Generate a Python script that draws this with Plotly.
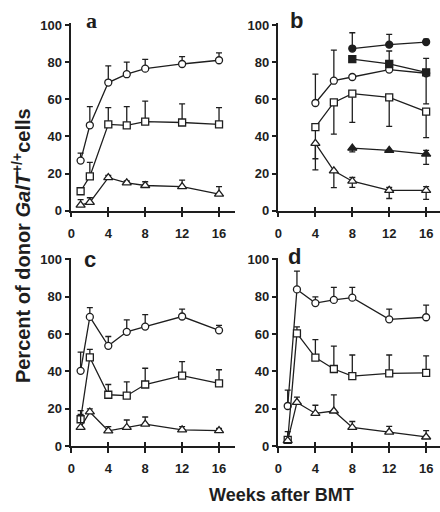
import plotly.graph_objects as go

W, H = 440, 512

weeks = [1, 2, 4, 6, 8, 12, 16]
xticks = [0, 4, 8, 12, 16]
yticks = [0, 20, 40, 60, 80, 100]

# Panel a
a_circ = [27, 46, 69, 73.5, 76.5, 79, 81]
a_circ_up = [4, 10, 9, 6.5, 5, 4, 4]
a_sq = [10.5, 18.5, 46.5, 46, 48, 47.5, 46.5]
a_sq_up = [0, 7.5, 9, 10, 11, 10, 9]
a_tri = [3, 4.5, 17.8, 15, 13.6, 13, 9]
a_tri_up = [3, 2.5, 1.2, 1, 2, 3.5, 4]

# Panel b
b_weeks_open = [4, 6, 8, 12, 16]
b_circ = [58, 70, 72, 76, 74]
b_circ_up = [15.5, 16.5, 0, 10, 0]
b_sq = [45, 58.3, 63, 61, 53.4]
b_sq_down = [17, 17.1, 15.4, 15.6, 14]
b_tri = [36.3, 21.5, 15.9, 11, 11]
b_tri_up = [0, 0, 2, 1.5, 2]
b_tri_down = [14.3, 9.1, 3.3, 4.4, 4.9]
b_weeks_filled = [8, 12, 16]
b_fcirc = [87.3, 89.4, 90.8]
b_fcirc_up = [8.5, 5.5, 1.5]
b_fsq = [81.6, 79, 74.5]
b_fsq_up = [0, 0, 7.5]
b_fsq_down = [0, 0, 17]
b_ftri = [33.7, 32.5, 30.5]
b_ftri_up = [0, 0, 2]
b_ftri_down = [2, 0, 5.5]

# Panel c
c_circ = [40.3, 69.2, 53.7, 61.2, 64, 69.4, 62]
c_circ_up = [10, 5, 5, 6.4, 6.4, 4, 2.7]
c_sq = [14.4, 47.5, 27.5, 27, 33, 37.7, 33.6]
c_sq_up = [4.6, 4.3, 5.5, 7.4, 8.7, 7.5, 7.3]
c_tri = [10, 18.3, 8.2, 10, 11.8, 8.7, 8.3]
c_tri_up = [7, 1.7, 2.2, 4, 3.8, 1.7, 1.2]

# Panel d
d_circ = [21.5, 83.9, 76.6, 78.3, 79.5, 67.9, 69]
d_circ_up = [8.5, 9.8, 3.3, 6.7, 5.5, 5.5, 6.5]
d_sq = [3.3, 60.4, 47.4, 41.3, 37.5, 39, 39.2]
d_sq_up = [4.5, 3.5, 9.6, 12.2, 11.3, 9.8, 9.1]
d_tri = [3, 23.4, 17.5, 18.8, 10, 7.5, 4.9]
d_tri_up = [0, 2.8, 4.4, 8.6, 3.2, 3.1, 3.4]

INK = "#1e1e1e"
FONT = "Liberation Sans"

fig = go.Figure()

SYM = {"circ": ("circle", 7, False), "sq": ("square", 7, False), "tri": ("triangle-up", 8, False),
       "fcirc": ("circle", 7, True), "fsq": ("square", 7, True), "ftri": ("triangle-up", 8, True)}


def add(xs, ys, kind, ax, up=None, down=None):
    sym, size, filled = SYM[kind]
    err = None
    if up is not None or down is not None:
        n = len(ys)
        err = dict(type="data", symmetric=False,
                   array=up if up is not None else [0] * n,
                   arrayminus=down if down is not None else [0] * n,
                   color=INK, thickness=1.3, width=3)
    fig.add_trace(go.Scatter(
        x=xs, y=ys, mode="lines+markers",
        xaxis="x" + ax, yaxis="y" + ax,
        line=dict(color=INK, width=1.3),
        marker=dict(symbol=sym, size=size,
                    color=INK if filled else "white",
                    line=dict(color=INK, width=1.3)),
        error_y=err, cliponaxis=False, showlegend=False))


# a
add(weeks, a_circ, "circ", "", up=a_circ_up)
add(weeks, a_sq, "sq", "", up=a_sq_up)
add(weeks, a_tri, "tri", "", up=a_tri_up)
# b
add(b_weeks_open, b_sq, "sq", "2", down=b_sq_down)
add(b_weeks_open, b_tri, "tri", "2", up=b_tri_up, down=b_tri_down)
add(b_weeks_open, b_circ, "circ", "2", up=b_circ_up)
add(b_weeks_filled, b_fsq, "fsq", "2", up=b_fsq_up, down=b_fsq_down)
add(b_weeks_filled, b_fcirc, "fcirc", "2", up=b_fcirc_up)
add(b_weeks_filled, b_ftri, "ftri", "2", up=b_ftri_up, down=b_ftri_down)
# c
add(weeks, c_circ, "circ", "3", up=c_circ_up)
add(weeks, c_sq, "sq", "3", up=c_sq_up)
add(weeks, c_tri, "tri", "3", up=c_tri_up)
# d
add(weeks, d_circ, "circ", "4", up=d_circ_up)
add(weeks, d_sq, "sq", "4", up=d_sq_up)
add(weeks, d_tri, "tri", "4", up=d_tri_up)

# geometry in pixels
left_x0, left_x1 = 68, 233
right_x0, right_x1 = 277, 440
top_y0, top_y100 = 210.5, 19.5
bot_y0, bot_y100 = 452.5, 260.5
YMAX = 101


def xdom(x0, x1):
    return [x0 / W, x1 / W]


def ydom(y0, y100):
    top = y100 - (y0 - y100) * (YMAX - 100) / 100
    return [1 - y0 / H, 1 - top / H]


tickfont = dict(family=FONT, size=13, color=INK)
common_x = dict(tickmode="array", tickvals=xticks, ticktext=["<b>%d</b>" % v for v in xticks],
                showline=True, linecolor=INK, linewidth=1.5,
                ticks="outside", ticklen=5, tickwidth=1.5, tickcolor=INK, showgrid=False,
                zeroline=False, tickfont=tickfont, ticklabelstandoff=5)
common_y = dict(range=[0, YMAX], tickmode="array", tickvals=yticks,
                ticktext=["<b>%d</b>" % v for v in yticks], showline=True, linecolor=INK,
                linewidth=1.5, ticks="outside", ticklen=5, tickwidth=1.5, tickcolor=INK,
                showgrid=False, zeroline=False, tickfont=tickfont)
inner_x = dict(tickmode="array", tickvals=xticks, showline=False, ticks="inside", ticklen=4,
               tickwidth=1.5, tickcolor=INK, showticklabels=False, showgrid=False, zeroline=False)

xl = (left_x1 - left_x0) / 9.3125
xr = (right_x1 - right_x0) / 9.3125

layout = dict(
    width=W, height=H, margin=dict(l=0, r=0, t=0, b=0),
    paper_bgcolor="white", plot_bgcolor="rgba(0,0,0,0)",
    xaxis=dict(domain=xdom(left_x0, left_x1), range=[0, xl], anchor="y", **common_x),
    yaxis=dict(domain=ydom(top_y0, top_y100), anchor="x", **common_y),
    xaxis2=dict(domain=xdom(right_x0, right_x1), range=[0, xr], anchor="y2", **common_x),
    yaxis2=dict(domain=ydom(top_y0, top_y100), anchor="x2", **common_y),
    xaxis3=dict(domain=xdom(left_x0, left_x1), range=[0, xl], anchor="y3", **common_x),
    yaxis3=dict(domain=ydom(bot_y0, bot_y100), anchor="x3", **common_y),
    xaxis4=dict(domain=xdom(right_x0, right_x1), range=[0, xr], anchor="y4", **common_x),
    yaxis4=dict(domain=ydom(bot_y0, bot_y100), anchor="x4", **common_y),
    xaxis5=dict(overlaying="x", anchor="y", range=[0, xl], **inner_x),
    xaxis6=dict(overlaying="x2", anchor="y2", range=[0, xr], **inner_x),
    xaxis7=dict(overlaying="x3", anchor="y3", range=[0, xl], **inner_x),
    xaxis8=dict(overlaying="x4", anchor="y4", range=[0, xr], **inner_x),
)
fig.update_layout(**layout)

# invisible traces so the overlay tick axes render
for xa, ya in [("x5", "y"), ("x6", "y2"), ("x7", "y3"), ("x8", "y4")]:
    fig.add_trace(go.Scatter(x=[None], y=[None], xaxis=xa, yaxis=ya, showlegend=False,
                             hoverinfo="skip", mode="markers"))

letters = [("a", 88, 15, "Liberation Serif", 22), ("b", 295, 15, FONT, 22),
           ("c", 87, 261, FONT, 22), ("d", 293, 258, FONT, 22)]
for t, px, py, fam, sz in letters:
    fig.add_annotation(text="<b>%s</b>" % t, x=px / W, y=1 - py / H, xref="paper", yref="paper",
                       showarrow=False, xanchor="center", yanchor="middle",
                       font=dict(family=fam, size=sz, color=INK))

fig.add_annotation(text="<b>Percent of donor <i>GalT</i><sup>+/+</sup>cells</b>",
                   x=17 / W, y=1 - 246 / H, xref="paper", yref="paper", showarrow=False,
                   textangle=-90, xanchor="center", yanchor="middle",
                   font=dict(family=FONT, size=20, color=INK))
fig.add_annotation(text="<b>Weeks after BMT</b>", x=280 / W, y=1 - 503 / H, xref="paper",
                   yref="paper", showarrow=False, xanchor="center", yanchor="middle",
                   font=dict(family=FONT, size=18, color=INK))

fig.write_html("out.html")
